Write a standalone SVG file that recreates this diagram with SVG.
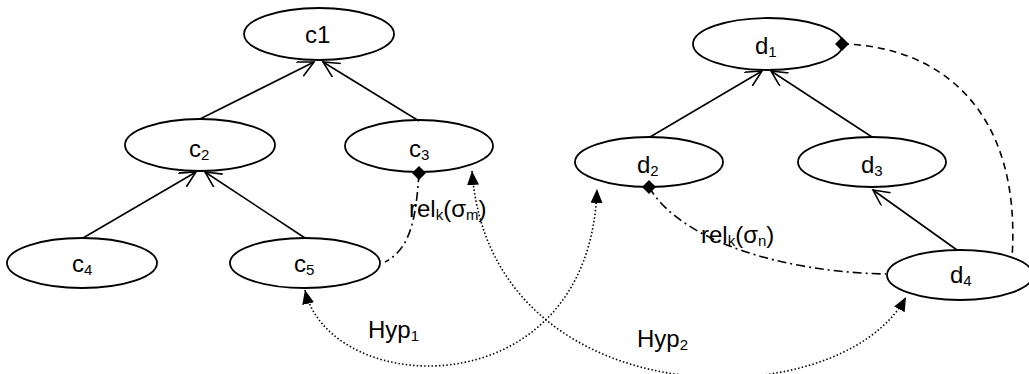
<svg xmlns="http://www.w3.org/2000/svg" width="1029" height="374" viewBox="0 0 1029 374">
<style>
.n ellipse{fill:#fff;stroke:#000;stroke-width:1.8}
text{font-family:"Liberation Sans",Arial,sans-serif;font-size:24px;fill:#000}
.s{font-size:15px}
.e{fill:none;stroke:#000;stroke-width:1.6}
.dot{fill:none;stroke:#000;stroke-width:1.6;stroke-dasharray:1.5 2.2}
.dd{fill:none;stroke:#000;stroke-width:1.6;stroke-dasharray:9 4 2 4}
.da{fill:none;stroke:#000;stroke-width:1.6;stroke-dasharray:7 5}
</style>
<defs>
<marker id="v" markerUnits="userSpaceOnUse" markerWidth="20" markerHeight="20" refX="16" refY="8" orient="auto"><path d="M0,0 L16,8 L0,16" fill="none" stroke="#000" stroke-width="1.6"/></marker>
<marker id="tri" markerUnits="userSpaceOnUse" markerWidth="16" markerHeight="14" refX="14" refY="6" orient="auto-start-reverse"><path d="M0,0 L14,6 L0,12 Z" fill="#000"/></marker>
<marker id="dia" markerUnits="userSpaceOnUse" markerWidth="16" markerHeight="16" refX="7" refY="7" orient="0"><path d="M0,7 L7,0 L14,7 L7,14 Z" fill="#000"/></marker>
</defs>
<g id="c1" class="n"><ellipse cx="319" cy="34" rx="75" ry="26"/><text x="305" y="43">c1</text></g>
<g id="c2" class="n"><ellipse cx="200" cy="145" rx="75" ry="26"/><text x="189" y="157">c<tspan class="s" dy="3">2</tspan></text></g>
<g id="c3" class="n"><ellipse cx="419" cy="146" rx="74" ry="26"/><text x="409" y="157">c<tspan class="s" dy="3">3</tspan></text></g>
<g id="c4" class="n"><ellipse cx="82" cy="263" rx="75" ry="25"/><text x="72" y="272">c<tspan class="s" dy="3">4</tspan></text></g>
<g id="c5" class="n"><ellipse cx="305" cy="263" rx="75" ry="25"/><text x="294" y="272">c<tspan class="s" dy="3">5</tspan></text></g>
<g id="d1" class="n"><ellipse cx="768" cy="44" rx="75" ry="26"/><text x="755" y="54">d<tspan class="s" dy="3">1</tspan></text></g>
<g id="d2" class="n"><ellipse cx="649" cy="162" rx="74" ry="25"/><text x="637" y="173">d<tspan class="s" dy="3">2</tspan></text></g>
<g id="d3" class="n"><ellipse cx="872" cy="162" rx="74" ry="25"/><text x="861" y="173">d<tspan class="s" dy="3">3</tspan></text></g>
<g id="d4" class="n"><ellipse cx="960" cy="275" rx="73" ry="25"/><text x="950" y="283">d<tspan class="s" dy="3">4</tspan></text></g>
<g id="connectors">
<path class="e" d="M200,119 L314,62" marker-end="url(#v)"/>
<path class="e" d="M419,121 L323,62" marker-end="url(#v)"/>
<path class="e" d="M83,238 L196,172" marker-end="url(#v)"/>
<path class="e" d="M305,238 L205,172" marker-end="url(#v)"/>
<path class="e" d="M650,137 L762,71" marker-end="url(#v)"/>
<path class="e" d="M872,137 L771,71" marker-end="url(#v)"/>
<path class="e" d="M957,250 L873,190" marker-end="url(#v)"/>
<path class="da" d="M842,44 C940,46 1022,110 1012,258" marker-start="url(#dia)"/>
<path class="dd" d="M419,173 C416,215 412,248 385,262" marker-start="url(#dia)"/>
<path class="dd" d="M649,187 C680,240 780,272 886,274" marker-start="url(#dia)"/>
<path class="dot" d="M305,290 C330,400 590,410 597,189" marker-start="url(#tri)" marker-end="url(#tri)"/>
<path class="dot" d="M472,171 C490,420 840,420 906,297" marker-start="url(#tri)" marker-end="url(#tri)"/>
</g>
<g id="labels">
<text x="409" y="217">rel<tspan class="s" dy="3">k</tspan><tspan dy="-3">(σ</tspan><tspan class="s" dy="3">m</tspan><tspan dy="-3">)</tspan></text>
<text x="701" y="243">rel<tspan class="s" dy="3">k</tspan><tspan dy="-3">(σ</tspan><tspan class="s" dy="3">n</tspan><tspan dy="-3">)</tspan></text>
<text x="368" y="338">Hyp<tspan class="s" dy="3">1</tspan></text>
<text x="637" y="347">Hyp<tspan class="s" dy="3">2</tspan></text>
</g>
</svg>
